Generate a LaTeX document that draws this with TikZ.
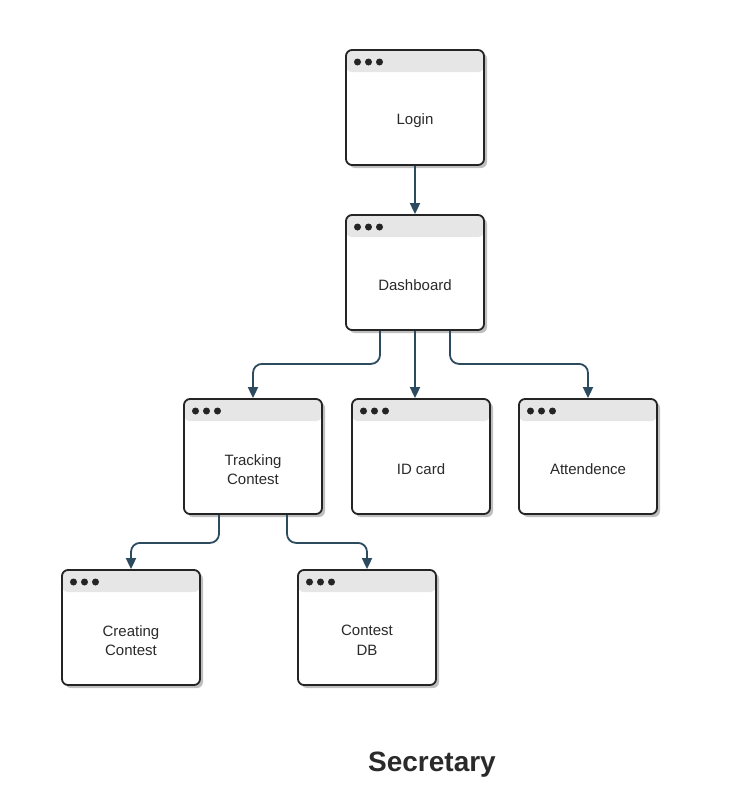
\documentclass[tikz,border=0pt]{standalone}
\usepackage{fontspec}
\setmainfont{Liberation Sans}
\usepackage{tikz}
\usetikzlibrary{arrows.meta, positioning, calc, shadows}
\definecolor{frameink}{HTML}{242424}
\definecolor{headgray}{HTML}{E6E6E6}
\definecolor{linkblue}{HTML}{2C4B5F}
\definecolor{textink}{HTML}{2A2A2A}

\begin{document}
\begin{tikzpicture}[x=1pt, y=-1pt, font=\fontsize{15}{19.5}\selectfont]
    \tikzstyle{window} = [rectangle, rounded corners=6pt, minimum width=138pt, minimum height=115pt,
      draw=frameink, line width=1.8pt, fill=white,
      drop shadow={shadow xshift=3pt, shadow yshift=-3pt, fill=black!25, opacity=1},
      path picture={
        \fill[headgray] (path picture bounding box.north west) rectangle ([yshift=-22pt]path picture bounding box.north east);
        \foreach \dx in {11.5,22.5,33.5}
          \fill[frameink] ([xshift=\dx pt, yshift=-12pt]path picture bounding box.north west) circle (3.5pt);
      },
      label={[text=textink, align=center, yshift=-13pt]center:#1}]
    \tikzstyle{link} = [draw=linkblue, line width=1.8pt, rounded corners=9pt,
      -{Triangle[width=10pt, length=11pt]}]

    \useasboundingbox (0,0) rectangle (746,811);

    \node (login)   [window=Login] at (415,107.5) {};
    \node (dash)    [window=Dashboard] at (415,272.5) {};
    \node (track)   [window={Tracking\\Contest}] at (253,456.5) {};
    \node (idcard)  [window={ID card}] at (421,456.5) {};
    \node (attend)  [window=Attendence] at (588,456.5) {};
    \node (create)  [window={Creating\\Contest}] at (131,627.5) {};
    \node (contdb)  [window={Contest\\DB}] at (367,627.5) {};

    \node (title) [font=\fontsize{28}{32}\selectfont\bfseries, text=textink] at (432,765) {Secretary};

    \draw [link] (login) -- (dash);
    \draw [link] ([xshift=-35pt]dash.south) -- ++(0,33) -| (track.north);
    \draw [link] (dash.south) -- (dash.south |- idcard.north);
    \draw [link] ([xshift=35pt]dash.south) -- ++(0,33) -| (attend.north);
    \draw [link] ([xshift=-34pt]track.south) -- ++(0,28) -| (create.north);
    \draw [link] ([xshift=34pt]track.south) -- ++(0,28) -| (contdb.north);
\end{tikzpicture}
\end{document}
